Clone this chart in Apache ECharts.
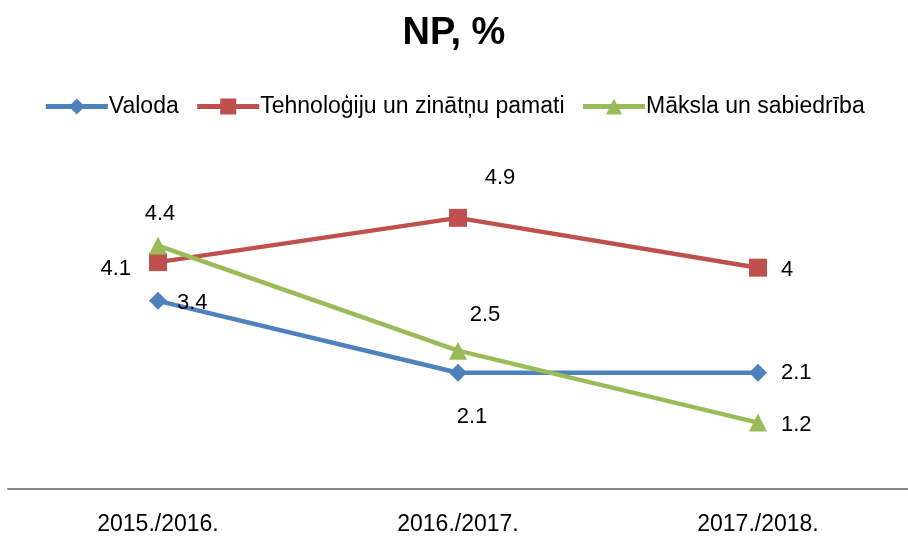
<!DOCTYPE html>
<html>
<head>
<meta charset="utf-8">
<script src="https://cdn.jsdelivr.net/npm/echarts@6/dist/echarts.min.js"></script>
<style>
  html, body { margin: 0; padding: 0; background: #fff; }
  #main { width: 908px; height: 537px; }
</style>
</head>
<body>
<div id="main"></div>
<script>
var categories = ['2015./2016.', '2016./2017.', '2017./2018.'];
var seriesNames = ['Valoda', 'Tehnoloģiju un zinātņu pamati', 'Māksla un sabiedrība'];
var valoda = [3.4, 2.1, 2.1];
var tehnologijas = [4.1, 4.9, 4];
var maksla = [4.4, 2.5, 1.2];

var font = 'Liberation Sans';

// label placement per point (style only)
function withLabels(values, places) {
    return values.map(function (v, i) {
        var p = places[i];
        return {
            value: v,
            label: { position: p[0], offset: p[1] || [0, 0] }
        };
    });
}

var chart = echarts.init(document.getElementById('main'));
var option = {
    animation: false,
    title: {
        text: 'NP, %',
        left: 'center',
        top: 10,
        textStyle: { fontFamily: font, fontSize: 38, fontWeight: 'bold', color: '#000' }
    },
    legend: {
        top: 90,
        left: 'center',
        itemWidth: 62,
        itemHeight: 20,
        itemGap: 16,
        lineStyle: { width: 5 },
        textStyle: { fontFamily: font, fontSize: 23, color: '#000', padding: [0, 0, 0, -4] },
        data: seriesNames
    },
    grid: { left: 8, right: 0, top: 157, bottom: 48 },
    xAxis: {
        type: 'category',
        data: categories,
        axisLine: { lineStyle: { color: '#898989', width: 2 } },
        axisTick: { show: false },
        axisLabel: { fontFamily: font, fontSize: 23, color: '#000', margin: 24 }
    },
    yAxis: {
        type: 'value',
        min: 0,
        max: 6,
        show: false,
        splitLine: { show: false }
    },
    series: [
        {
            name: seriesNames[0],
            type: 'line',
            symbol: 'diamond',
            symbolSize: 18,
            lineStyle: { width: 4.5, color: '#4F81BD' },
            itemStyle: { color: '#4F81BD' },
            label: { show: true, fontFamily: font, fontSize: 22, color: '#000', distance: 10 },
            data: withLabels(valoda, [['right', [0, 2]], ['bottom', [14, 14]], ['right', [4, 0]]]),
            z: 2
        },
        {
            name: seriesNames[1],
            type: 'line',
            symbol: 'rect',
            symbolSize: 18,
            lineStyle: { width: 4.5, color: '#C0504D' },
            itemStyle: { color: '#C0504D' },
            label: { show: true, fontFamily: font, fontSize: 22, color: '#000', distance: 10 },
            data: withLabels(tehnologijas, [['left', [-8, 7]], ['top', [42, -10]], ['right', [4, 2]]]),
            z: 3
        },
        {
            name: seriesNames[2],
            type: 'line',
            symbol: 'triangle',
            symbolSize: 18,
            lineStyle: { width: 4.5, color: '#9BBB59' },
            itemStyle: { color: '#9BBB59' },
            label: { show: true, fontFamily: font, fontSize: 22, color: '#000', distance: 10 },
            data: withLabels(maksla, [['top', [2, -2]], ['top', [27, -6]], ['right', [4, 2]]]),
            z: 4
        }
    ]
};
option && chart.setOption(option);
</script>
</body>
</html>
